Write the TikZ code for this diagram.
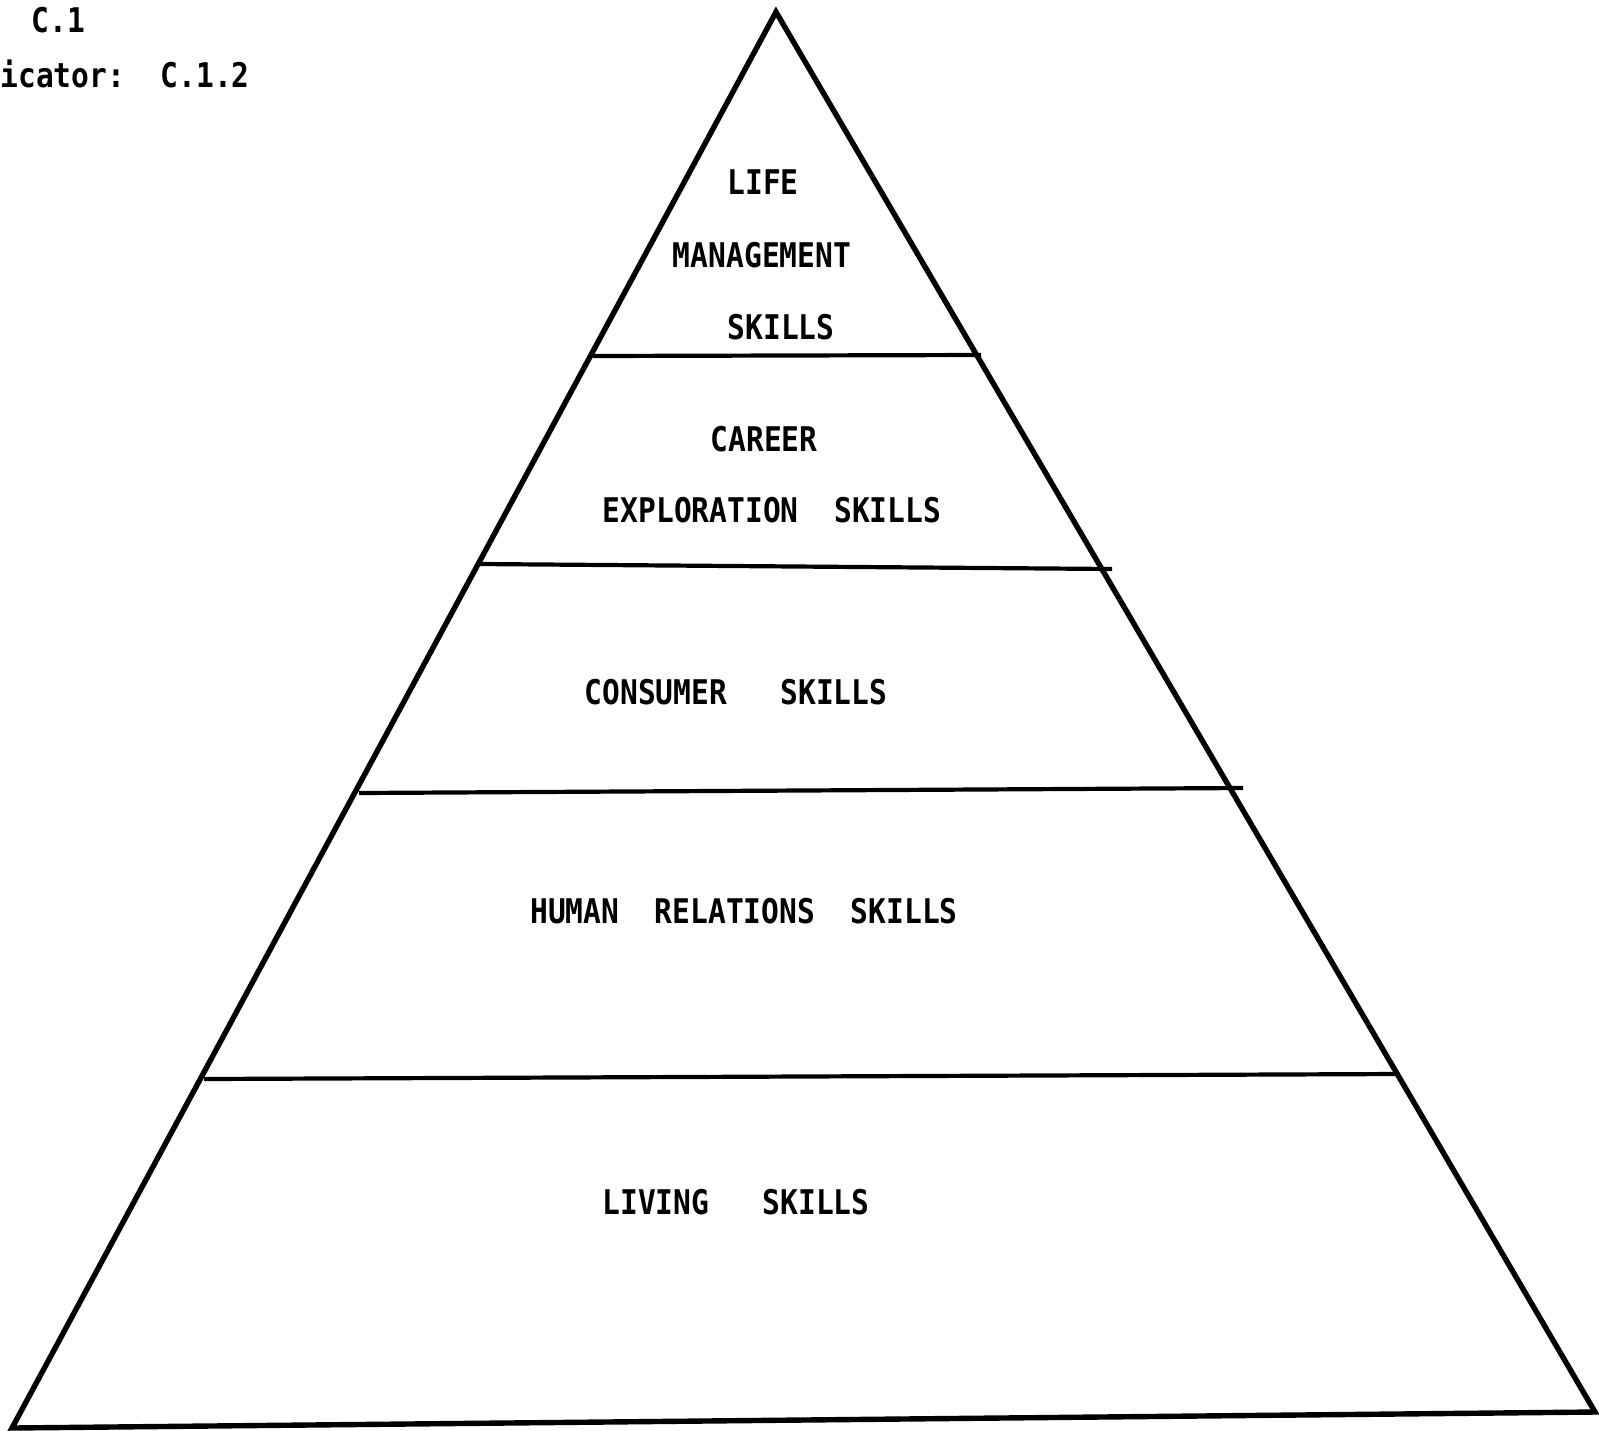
\documentclass[tikz,border=0pt]{standalone}
\usepackage{fontspec}
\newfontfamily\typewr[FakeStretch=0.87]{DejaVu Sans Mono}
\usetikzlibrary{positioning}

\begin{document}
\begin{tikzpicture}[x=0.5pt,y=-0.5pt,
side/.style={
% The outline:
line width=2.7pt,line join=miter,
draw=black},
tier/.style={line width=2.1pt,draw=black},
skill/.style={
% The text
inner sep=0pt,
font=\typewr\bfseries\fontsize{17}{20}\selectfont}]

\useasboundingbox (0,0) rectangle (1599,1430);

% corners of the pyramid
\coordinate (Apex) at (776,12);
\coordinate (BotL) at (12,1428);
\coordinate (BotR) at (1595,1412);
\draw[side] (BotL) -- (Apex) -- (BotR) -- cycle;

% the tiers
\coordinate (T1L) at (593,356);  \coordinate (T1R) at (981,355);
\coordinate (T2L) at (479,564);  \coordinate (T2R) at (1112,569);
\coordinate (T3L) at (359,793);  \coordinate (T3R) at (1243,788);
\coordinate (T4L) at (204,1079); \coordinate (T4R) at (1397,1074);
\path
(T1L) edge[tier] (T1R) % tier lines
(T2L) edge[tier] (T2R)
(T3L) edge[tier] (T3R)
(T4L) edge[tier] (T4R);

% labels
\node (Life) [skill] at (763,182) {LIFE};
\node (Manage) [skill] at (762,255) {MANAGEMENT};
\node (LifeSk) [skill] at (781,327) {SKILLS};
\node (Career) [skill] at (764,439) {CAREER};
\node (Explore) [skill] at (772,510) {EXPLORATION~~SKILLS};
\node (Consumer) [skill] at (736,692) {CONSUMER~~~SKILLS};
\node (Human) [skill] at (744,911) {HUMAN~~RELATIONS~~SKILLS};
\node (Living) [skill] at (736,1202) {LIVING~~~SKILLS};

\node (Sect) [skill,anchor=west] at (31,20) {C.1};
\node (Indic) [skill,anchor=west] at (0,74) {icator:~~C.1.2};

\end{tikzpicture}
\end{document}
